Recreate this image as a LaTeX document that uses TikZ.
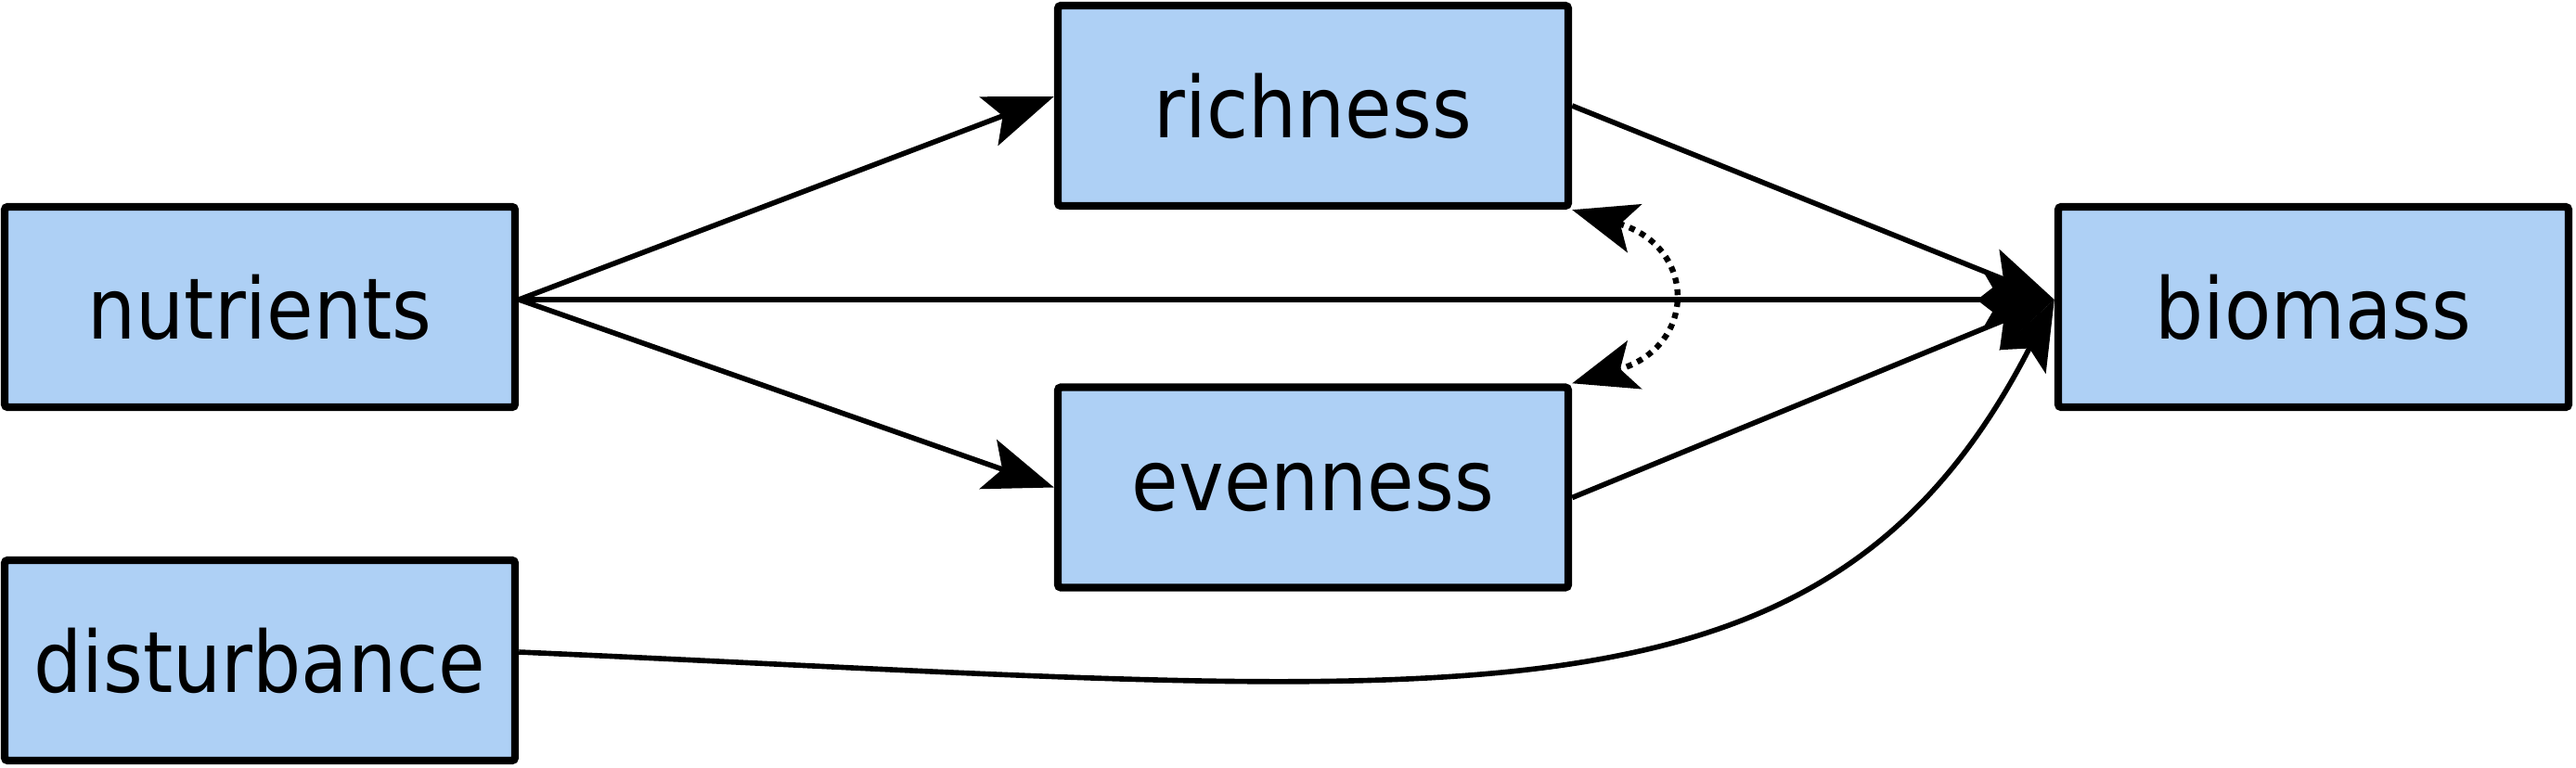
\documentclass[tikz,border=0pt]{standalone}
\usepackage{fontspec}
\setmainfont{DejaVu Sans Condensed}
\usetikzlibrary{arrows.meta}
\definecolor{boxfill}{HTML}{AED0F5}
\definecolor{darkline}{HTML}{000000}
\tikzset{
  var/.style={rectangle, rounded corners=1pt, draw=darkline, fill=boxfill, line width=2.4pt,
    minimum width=5.5cm, minimum height=2.16cm, inner sep=0pt, font=\fontsize{26}{31}\selectfont},
  path/.style={-{Stealth[length=7.5mm, width=5.6mm, inset=1.6mm]}, line width=1.6pt, draw=darkline},
  covar/.style={{Stealth[length=7mm, width=5.4mm, inset=1.6mm]}-{Stealth[length=7mm, width=5.4mm, inset=1.6mm]},
    line width=1.8pt, dash pattern=on 1.8pt off 1.8pt, draw=darkline}
}

\begin{document}
\begin{tikzpicture}
\useasboundingbox (0,0) rectangle (27.76,8.27);

\node[var] (nutrients) at (2.80, 4.96) {nutrients};
\node[var] (disturbance) at (2.80, 1.15) {disturbance};
\node[var] (richness) at (14.15, 7.13) {richness};
\node[var] (evenness) at (14.15, 3.015) {evenness};
\node[var] (biomass) at (24.93, 4.96) {biomass};

\draw[path] ([yshift=0.8mm]nutrients.east) -- ([yshift=1mm]richness.west);
\draw[path] ([yshift=0.8mm]nutrients.east) -- (evenness.west);
\draw[path] ([yshift=0.8mm]nutrients.east) -- ([yshift=0.8mm]biomass.west);
\draw[path] (richness.east) -- ([yshift=0.8mm]biomass.west);
\draw[path] ([yshift=-1.1mm]evenness.east) -- ([yshift=0.8mm]biomass.west);
\draw[path] ([yshift=0.9mm]disturbance.east) .. controls (15.63,0.8) and (19.63,0.14) .. ([yshift=0.8mm]biomass.west);
\draw[covar] (richness.south east) .. controls +(1.35,-0.4) and +(1.35,0.4) .. (evenness.north east);

\end{tikzpicture}
\end{document}
